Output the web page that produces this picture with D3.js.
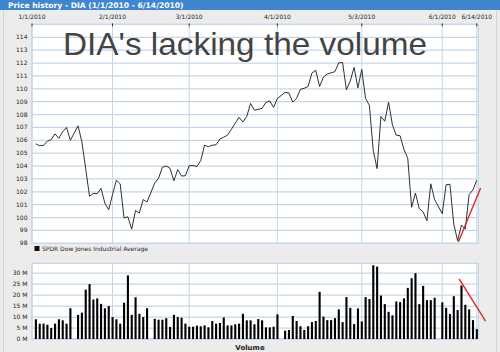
<!DOCTYPE html>
<html><head><meta charset="utf-8">
<script src="https://cdn.jsdelivr.net/npm/d3@7"></script>
<style>body{margin:0;background:#ececec;} svg{display:block;}</style>
</head><body><svg id="c" width="500" height="352"></svg>
<script>
// ---- data ----
const tradeDates = [
"1/4","1/5","1/6","1/7","1/8","1/11","1/12","1/13","1/14","1/15","1/19","1/20","1/21","1/22","1/25","1/26","1/27","1/28","1/29",
"2/1","2/2","2/3","2/4","2/5","2/8","2/9","2/10","2/11","2/12","2/16","2/17","2/18","2/19","2/22","2/23","2/24","2/25","2/26",
"3/1","3/2","3/3","3/4","3/5","3/8","3/9","3/10","3/11","3/12","3/15","3/16","3/17","3/18","3/19","3/22","3/23","3/24","3/25","3/26","3/29","3/30","3/31",
"4/1","4/5","4/6","4/7","4/8","4/9","4/12","4/13","4/14","4/15","4/16","4/19","4/20","4/21","4/22","4/23","4/26","4/27","4/28","4/29","4/30",
"5/3","5/4","5/5","5/6","5/7","5/10","5/11","5/12","5/13","5/14","5/17","5/18","5/19","5/20","5/21","5/24","5/25","5/26","5/27","5/28",
"6/1","6/2","6/3","6/4","6/7","6/8","6/9","6/10","6/11","6/14"];
const prices = [
105.72,105.58,105.60,105.93,106.05,106.50,106.15,106.66,107.00,106.00,107.12,105.90,103.80,101.65,101.88,101.85,102.27,101.12,100.60,
101.78,102.90,102.62,99.96,100.06,99.10,100.55,100.35,101.40,101.20,102.68,103.05,103.90,104.00,103.82,102.85,103.72,103.22,103.25,
104.02,104.04,103.96,104.42,105.62,105.50,105.62,105.65,106.10,106.24,106.40,106.85,107.32,107.78,107.42,107.84,108.86,108.34,108.40,108.48,108.94,109.05,108.55,
109.25,109.72,109.68,108.96,109.26,109.96,110.04,110.18,111.22,111.44,110.18,110.90,111.15,111.24,111.33,112.02,112.04,109.92,110.60,111.66,110.08,
111.50,109.25,108.70,105.20,103.80,107.85,107.48,108.96,107.20,106.40,106.35,105.30,104.60,100.80,101.90,100.70,100.45,99.75,102.62,101.40,
100.30,102.55,102.58,99.50,98.20,99.42,99.10,101.78,102.15,102.90];
const volumes = [
9,7,7,6.5,5,7,9,8.5,7,14,11,12,22.5,25,18,18.5,16,14,15,
10,9,7,16.5,29,11,19,11.5,10,14,9.2,8.8,8.8,9.5,5.5,11,10,9.7,7,
5.6,5.6,6.1,5.8,6.2,5.3,8.2,7,7.3,9.8,6.2,6.2,6.7,7,11.5,8.5,8.5,6.7,9.1,8.5,5.3,5.3,5.6,
11.2,3.8,4.1,10.5,8.2,5.8,4.1,5.8,7.7,8.2,21.5,10.2,8.6,8.6,9.5,13.5,7.7,19.1,14.2,6.8,13.9,
8,19.1,18.2,33.6,33,19.8,15.9,12.4,10.8,17.1,16.8,18.5,23.3,27.7,30,15.9,24.2,17.7,17.7,18.8,
16.7,14.2,11.4,19.5,13.2,24.4,15.6,13.5,8.6,4.5];
const tickDates = ["1/1","2/1","3/1","4/1","5/3","6/1","6/14"];
const tickLabels = ["1/1/2010","2/1/2010","3/1/2010","4/1/2010","5/3/2010","6/1/2010","6/14/2010"];
const priceTicks = [98,99,100,101,102,103,104,105,106,107,108,109,110,111,112,113,114];
const volTicks = [0,5,10,15,20,25,30];
const title = "Price history - DIA (1/1/2010 - 6/14/2010)";
const legendLabel = "SPDR Dow Jones Industrial Average";
const note = "DIA's lacking the volume";
// annotation trend lines: [date-index, value]
const priceArrow = [[111.2, 98.1],[117.0, 102.3]];
const volArrow = [[111.4, 27.4],[118.3, 8.2]];

// weekday index since 1/1/2010 (weekends excluded from the axis)
function wd(s){
  const [m,d] = s.split("/").map(Number);
  const t = new Date(2010,0,1), end = new Date(2010,m-1,d);
  let n = 0;
  while (t < end){ const g = t.getDay(); if (g!==0 && g!==6) n++; t.setDate(t.getDate()+1); }
  return n;
}

const svg = d3.select("#c");
const FONT = "DejaVu Sans, Verdana, sans-serif";
const GRID = "#c5d6ea";
const L = 32, R = 478.3;
const x = d3.scaleLinear().domain([0,116.4]).range([L,R]);
const y = d3.scaleLinear().domain([98,115]).range([243.3,24.4]);
const yv = d3.scaleLinear().domain([0,34.5]).range([339,263.3]);

// background & frame
svg.append("rect").attr("width",500).attr("height",352).attr("fill","#ececec");
svg.append("rect").attr("width",500).attr("height",10).attr("fill","#3e86d0");
svg.append("text").attr("x",8).attr("y",7.6).attr("fill","#fff")
  .attr("font-family",FONT).attr("font-weight","bold").attr("font-size",7.6).text(title);
[3.5,496.5].forEach(px => svg.append("line").attr("x1",px).attr("x2",px).attr("y1",10).attr("y2",352)
  .attr("stroke","#cbd5e0").attr("stroke-width",1));

// price panel
svg.append("rect").attr("x",L).attr("y",y(115)).attr("width",R-L).attr("height",y(98)-y(115))
  .attr("fill","#fff").attr("stroke","#bccde0");
svg.append("g").selectAll("line").data(priceTicks.concat([115])).join("line")
  .attr("x1",L).attr("x2",R).attr("y1",d=>y(d)).attr("y2",d=>y(d))
  .attr("stroke",GRID).attr("stroke-width",1.3);
svg.append("g").selectAll("line").data(tickDates).join("line")
  .attr("x1",d=>x(wd(d))).attr("x2",d=>x(wd(d))).attr("y1",y(115)).attr("y2",y(98))
  .attr("stroke",GRID).attr("stroke-width",1);
svg.append("g").selectAll("line").data(tickDates).join("line")
  .attr("x1",d=>x(wd(d))).attr("x2",d=>x(wd(d))).attr("y1",y(115)-1).attr("y2",y(115)+2)
  .attr("stroke","#333").attr("stroke-width",1);
svg.append("g").selectAll("text").data(tickDates).join("text")
  .attr("x",d=>x(wd(d))).attr("y",19).attr("text-anchor","middle")
  .attr("font-family",FONT).attr("font-size",6).attr("fill","#222")
  .text((d,i)=>tickLabels[i]);
svg.append("g").selectAll("text").data(priceTicks).join("text")
  .attr("x",27.5).attr("y",d=>y(d)+2).attr("text-anchor","end")
  .attr("font-family",FONT).attr("font-size",6).attr("fill","#222").text(d=>d);

const pts = tradeDates.map((d,i)=>[wd(d),prices[i]]);
svg.append("path").datum(pts)
  .attr("d",d3.line().x(d=>x(d[0])).y(d=>y(d[1])))
  .attr("fill","none").attr("stroke","#1a1a1a").attr("stroke-width",0.9);

// annotation text
svg.append("text").attr("x",63).attr("y",54.8).attr("fill","#444")
  .attr("font-family","Liberation Sans, Arial, sans-serif").attr("font-size",30.5)
  .attr("textLength",364).attr("lengthAdjust","spacingAndGlyphs").text(note);

// legend
svg.append("rect").attr("x",34.5).attr("y",246).attr("width",5).attr("height",5).attr("fill","#111");
svg.append("text").attr("x",42).attr("y",250.5).attr("font-family",FONT).attr("font-size",6)
  .attr("fill","#222").text(legendLabel);

// volume panel
svg.append("rect").attr("x",L).attr("y",yv(34.5)).attr("width",R-L).attr("height",yv(0)-yv(34.5))
  .attr("fill","#fff").attr("stroke","#bccde0");
svg.append("g").selectAll("line").data(volTicks).join("line")
  .attr("x1",L).attr("x2",R).attr("y1",d=>yv(d)).attr("y2",d=>yv(d))
  .attr("stroke",GRID).attr("stroke-width",1.3);
svg.append("g").selectAll("line").data(tickDates).join("line")
  .attr("x1",d=>x(wd(d))).attr("x2",d=>x(wd(d))).attr("y1",yv(34.5)).attr("y2",yv(0))
  .attr("stroke",GRID).attr("stroke-width",1);
svg.append("g").selectAll("text").data(volTicks).join("text")
  .attr("x",27.5).attr("y",d=>yv(d)+2).attr("text-anchor","end")
  .attr("font-family",FONT).attr("font-size",6).attr("fill","#222").text(d=>d+" M");
svg.append("g").selectAll("rect").data(tradeDates).join("rect")
  .attr("x",d=>x(wd(d))-1).attr("width",2.1)
  .attr("y",(d,i)=>yv(volumes[i])).attr("height",(d,i)=>yv(0)-yv(volumes[i]))
  .attr("fill","#000");
svg.append("text").attr("x",250).attr("y",349.5).attr("text-anchor","middle")
  .attr("font-family",FONT).attr("font-weight","bold").attr("font-size",7).attr("fill","#222").text("Volume");

// red trend annotations
svg.append("line").attr("x1",x(priceArrow[0][0])).attr("y1",y(priceArrow[0][1]))
  .attr("x2",x(priceArrow[1][0])).attr("y2",y(priceArrow[1][1]))
  .attr("stroke","#e3262b").attr("stroke-width",1.4);
svg.append("line").attr("x1",x(volArrow[0][0])).attr("y1",yv(volArrow[0][1]))
  .attr("x2",x(volArrow[1][0])).attr("y2",yv(volArrow[1][1]))
  .attr("stroke","#e3262b").attr("stroke-width",1.4);
</script></body></html>
